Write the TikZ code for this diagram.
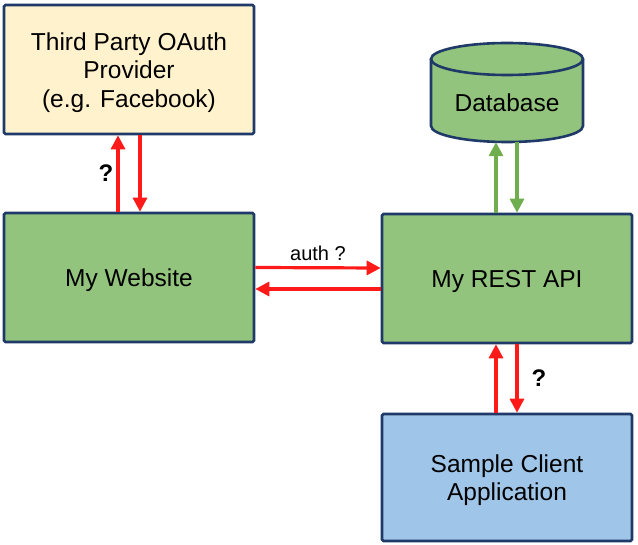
\documentclass[tikz,border=0pt]{standalone}
\usepackage{fontspec}
\setmainfont{Liberation Sans}
\usetikzlibrary{arrows.meta}
\definecolor{beige}{HTML}{FFF2CC}
\definecolor{gfill}{HTML}{93C47D}
\definecolor{bfill}{HTML}{9FC5E8}
\definecolor{navy}{HTML}{1F3A68}
\definecolor{garrow}{HTML}{6FAE4E}
\definecolor{rarrow}{HTML}{FF1A1A}
\newcommand\lowtxt[2][3.5pt]{\raisebox{-#1}[\height][\depth]{\begin{tabular}{@{}c@{}}#2\end{tabular}}}
\tikzset{
  box/.style={draw=navy, line width=2.6pt, rounded corners=1.5pt, minimum width=250pt, minimum height=129pt, inner sep=0pt, font=\fontsize{24.5}{28.5}\selectfont},
  redarr/.style={draw=rarrow, line width=3.2pt, -{Triangle[length=14pt,width=14pt]}},
  grnarr/.style={draw=garrow, line width=3.2pt, -{Triangle[length=14pt,width=14pt]}},
  qmark/.style={font=\fontsize{24}{28}\selectfont\bfseries, inner sep=0pt},
}
\begin{document}
\begin{tikzpicture}[x=1pt,y=-1pt]
\useasboundingbox (0,0) rectangle (638,545);
\node[box, fill=beige] (third) at (129,69.5) {\lowtxt{Third Party OAuth\\Provider\\(e.g. Facebook)}};
\node[box, fill=gfill] (web) at (129,277.5) {\lowtxt{My Website}};
\node[box, fill=gfill] (api) at (507,278.5) {\lowtxt{My REST API}};
\node[box, fill=bfill, minimum height=127pt] (client) at (507,477.5) {\lowtxt{Sample Client\\Application}};
% database cylinder
\fill[gfill] (431,59) -- (431,126) arc[start angle=180,end angle=0,x radius=76,y radius=16] -- (583,59) arc[start angle=0,end angle=-180,x radius=76,y radius=16] -- cycle;
\draw[navy, line width=2.6pt] (431,59) -- (431,126) arc[start angle=180,end angle=0,x radius=76,y radius=16] -- (583,59);
\draw[navy, line width=2.6pt] (507,59) ellipse[x radius=76,y radius=16];
\node[inner sep=0pt, minimum width=152pt, minimum height=99pt, font=\fontsize{24.5}{28.5}\selectfont] (db) at (507,92.5) {\lowtxt[13pt]{Database}};
% arrows
\draw[redarr] ([xshift=-11pt]web.north) -- ([xshift=-11pt]third.south);
\draw[redarr] ([xshift=11pt]third.south) -- ([xshift=11pt]web.north);
\node[qmark] (q1) at (106,173) {?};
\draw[redarr] ([yshift=10pt]web.east) -- ([yshift=10.5pt]api.west) node[midway, above=5pt, font=\fontsize{20}{24}\selectfont, inner sep=0pt] (authlbl) {auth ?};
\draw[redarr] ([yshift=-10.5pt]api.west) -- ([yshift=-11.5pt]web.east);
\draw[grnarr] ([xshift=-11pt]api.north) -- ([xshift=-11pt]db.south);
\draw[grnarr] ([xshift=10pt]db.south) -- ([xshift=10pt]api.north);
\draw[redarr] ([xshift=-11pt]client.north) -- ([xshift=-11pt]api.south);
\draw[redarr] ([xshift=10pt]api.south) -- ([xshift=10pt]client.north);
\node[qmark] (q2) at (539,378) {?};
\end{tikzpicture}
\end{document}
